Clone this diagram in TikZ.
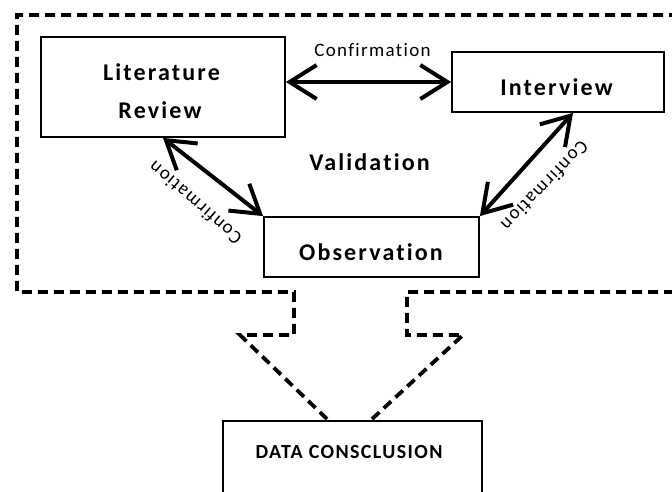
\documentclass[tikz,border=0pt]{standalone}
\usepackage{fontspec}
\setmainfont{Carlito}
\newfontfamily\lsfont{Carlito}[LetterSpace=9,Ligatures=NoCommon]
\newfontfamily\lsfontb{Carlito}[LetterSpace=7,Ligatures=NoCommon]
\usetikzlibrary{arrows.meta,calc}
\begin{document}
\begin{tikzpicture}[x=1pt,y=-1pt,
  box/.style={draw,line width=1.8pt,inner sep=0pt},
  lbl/.style={font=\lsfont\bfseries\fontsize{24}{28}\selectfont,anchor=base,inner sep=0pt},
  dlbl/.style={font=\lsfontb\bfseries\fontsize{20}{24}\selectfont,anchor=base,inner sep=0pt},
  conf/.style={font=\lsfontb\fontsize{19}{22}\selectfont,inner sep=0pt},
  dbl/.style={line width=4pt,{Straight Barb[length=27pt,width=34pt]}-{Straight Barb[length=27pt,width=34pt]}},
  frame/.style={line width=3.8pt,dash pattern=on 10pt off 6pt}
]
\useasboundingbox (0,0) rectangle (672,491);
\clip (0,0) rectangle (672,491);
% boxes
\node[box,minimum width=244pt,minimum height=100pt] (lit) at (163,87) {};
\node[box,minimum width=212pt,minimum height=60pt] (int) at (558,82) {};
\node[box,minimum width=215pt,minimum height=60pt] (obs) at (371.5,247) {};
\node[box,minimum width=259pt,minimum height=98pt] (data) at (352.5,470) {};
% texts
\node[lbl] (litA) at (161.5,80) {Literature};
\node[lbl] (litB) at (160,118) {Review};
\node[lbl] (intT) at (556.5,95) {Interview};
\node[lbl] (val) at (369.5,170) {Validation};
\node[lbl] (obsT) at (371,260) {Observation};
\node[dlbl] (dataT) at (349,458) {DATA CONSCLUSION};
\node[conf,anchor=base] (c1) at (372.5,56) {Confirmation};
\node[conf,rotate=139] (c2) at (195,203) {Confirmation};
\node[conf,rotate=226] (c3) at (545,186) {Confirmation};
% arrows
\draw[dbl] (lit.east |- int.west) -- (int.west);
\draw[dbl] (lit.south) -- (obs.north west);
\draw[dbl] ([xshift=15pt]int.south) -- (obs.north east);
% dashed frame
\draw[frame] (327,419) -- (240,335) -- (294,335) -- (294,292) -- (17,292) -- (17,15) -- (690,15);
\draw[frame] (372,419) -- (463,335) -- (407,335) -- (407,292) -- (690,292);
\end{tikzpicture}
\end{document}
